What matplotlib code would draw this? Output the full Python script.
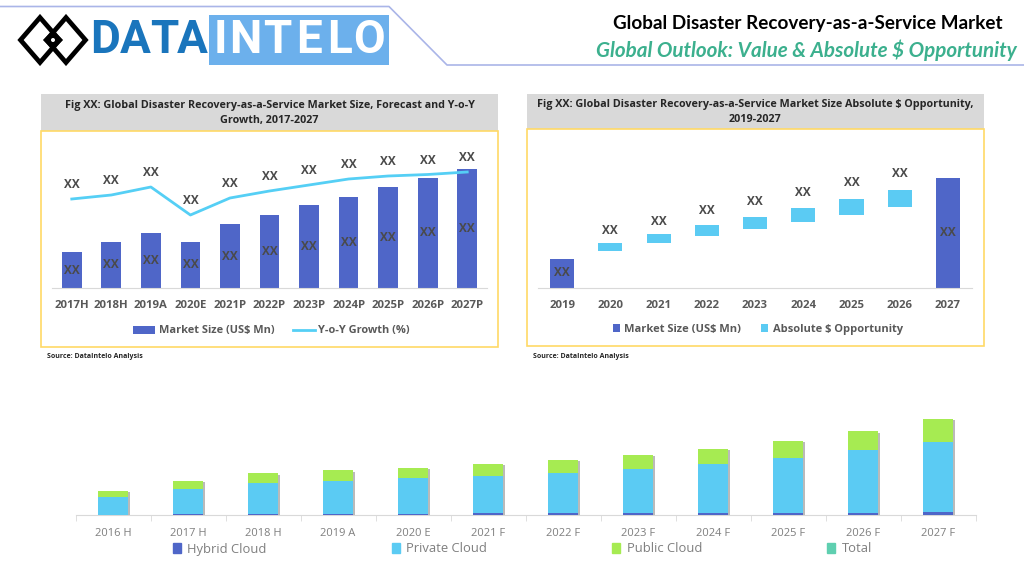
import matplotlib
matplotlib.use('Agg')
import numpy as np
import matplotlib.pyplot as plt
import matplotlib.patheffects as pe
from matplotlib.patches import Rectangle, Polygon, Circle, Patch

W, H = 1024, 576

# Grafica 1: tamano de mercado y crecimiento
years1 = ['2017H', '2018H', '2019A', '2020E', '2021P', '2022P', '2023P', '2024P', '2025P', '2026P', '2027P']
market1 = [36, 46, 55, 46, 64, 73, 83, 91, 101, 110, 119]
growth1 = [89, 93, 101, 73, 90, 97, 103, 109, 112, 113.5, 116]

# Grafica 2: oportunidad absoluta
years2 = ['2019', '2020', '2021', '2022', '2023', '2024', '2025', '2026', '2027']
market2 = [29, 0, 0, 0, 0, 0, 0, 0, 110]
opp_base = [0, 36.5, 44.5, 52, 59, 66, 73, 80.5, 0]
opp_size = [0, 8, 8.7, 10.4, 12, 13.3, 15.3, 17, 0]
opp_label = [56.5, 66, 76.5, 86, 95, 104.5, 114]

# Grafica 3: por tipo de nube
years3 = ['2016 H', '2017 H', '2018 H', '2019 A', '2020 E', '2021 F', '2022 F', '2023 F', '2024 F', '2025 F', '2026 F', '2027 F']
hybrid = np.array([0.3, 1.3, 1.3, 1.3, 1.3, 2.3, 2, 2, 2, 2.7, 2.7, 3.5])
private = np.array([18.3, 25, 31, 33, 35.7, 37.3, 40.3, 44.3, 49.3, 54.9, 62.3, 70.1])
public = np.array([5.7, 8.3, 9.7, 10.7, 10.3, 11.7, 13, 14, 15.3, 16.7, 19, 22.7])

BLUE = '#4F66C8'
CYAN = '#5BCBF3'
GREEN = '#A6EB52'
TEAL = '#5FCFB0'
GOLD = '#FFD966'
GRAY = '#D9D9D9'
TXT = '#595959'
XX = '#4A4A4A'
FONT = 'Open Sans'

plt.rcParams['font.family'] = FONT

fig = plt.figure(figsize=(W / 100, H / 100), dpi=100)

# capa de fondo en pixeles
bg = fig.add_axes([0, 0, 1, 1], zorder=-1)
bg.set_xlim(0, W)
bg.set_ylim(H, 0)
bg.axis('off')

def px_axes(x0, y0, x1, y1):
    a = fig.add_axes([x0 / W, 1 - y1 / H, (x1 - x0) / W, (y1 - y0) / H])
    a.patch.set_alpha(0)
    for s in ['top', 'right', 'left']:
        a.spines[s].set_visible(False)
    a.spines['bottom'].set_color(GRAY)
    a.set_yticks([])
    return a

def fig_pos(x, y):
    return (x / W, 1 - y / H)

# encabezado
bg.plot([0, 389, 447, W], [6.5, 6.5, 65, 65], color='#AAB5E8', lw=1.2)
bg.text(1003, 24, 'Global Disaster Recovery-as-a-Service Market', ha='right', va='center',
        family='Lato', weight='bold', fontsize=13.6, color='black')
bg.text(1017, 50, 'Global Outlook: Value & Absolute $ Opportunity', ha='right', va='center',
        family='Lato', weight='bold', style='italic', fontsize=14.9, color='#3CB08E')

# logo
for cx in [40, 66]:
    bg.add_patch(Polygon([(cx - 19.5, 40), (cx, 17.5), (cx + 19.5, 40), (cx, 62.5)], closed=True,
                         fill=False, ec='black', lw=3.4, joinstyle='miter'))
bg.add_patch(Polygon([(43, 40), (53, 30), (63, 40), (53, 50)], closed=True, fc='black', ec='none'))
bg.add_patch(Circle((53, 40), 2, fc='white', ec='none'))
bg.add_patch(Rectangle((209, 15), 180, 50, fc='#6CB0EC', ec='none'))
for c, x in zip('DATA', [105, 135, 164, 192]):
    bg.text(x, 40, c, ha='center', va='center', family='Roboto', weight='bold',
            fontsize=33, color='#1A75BC')
for c, x in zip('INTELO', [220, 245, 277, 309, 340, 369]):
    bg.text(x, 40, c, ha='center', va='center', family='Roboto', weight='bold',
            fontsize=33, color='white')

# paneles
panels = [(41, 94, 498, 131, 347, 'Fig XX: Global Disaster Recovery-as-a-Service Market Size, Forecast and Y-o-Y\nGrowth, 2017-2027'),
          (527, 94, 984, 129, 346, 'Fig XX: Global Disaster Recovery-as-a-Service Market Size Absolute $ Opportunity,\n2019-2027')]
for x0, y0, x1, y2, y3, tt in panels:
    bg.add_patch(Rectangle((x0, y0), x1 - x0, y2 - y0, fc=GRAY, ec='none'))
    bg.add_patch(Rectangle((x0, y2), x1 - x0, y3 - y2, fc='white', ec=GOLD, lw=1.2))
    bg.text((x0 + x1) / 2, (y0 + y2) / 2 + 0.5, tt, ha='center', va='center', weight='bold',
            fontsize=7.75, color='#262626', linespacing=1.45)
bg.text(47, 356, 'Source: DataIntelo Analysis', ha='left', va='center', weight='bold', fontsize=5, color='#262626')
bg.text(533, 356, 'Source: DataIntelo Analysis', ha='left', va='center', weight='bold', fontsize=5, color='#262626')

# Grafica 1
ax1 = px_axes(52, 140, 487, 288)
x1 = np.arange(len(years1))
bars1 = ax1.bar(x1, market1, width=0.5, color=BLUE, label='Market Size (US$ Mn)')
line1, = ax1.plot(x1, growth1, color='#55CFF5', lw=2, label='Y-o-Y Growth (%)')
for i in x1:
    ax1.text(i, market1[i] / 2, 'XX', ha='center', va='center', weight='bold', fontsize=8.5, color=XX)
    ax1.text(i, growth1[i] + 14.5, 'XX', ha='center', va='center', weight='bold', fontsize=8.5, color=XX)
ax1.set_xlim(-0.5, len(years1) - 0.5)
ax1.set_ylim(0, 148)
ax1.set_xticks(x1, years1)
ax1.tick_params(axis='x', length=0, pad=9, labelsize=8.2, labelcolor=TXT)
for t in ax1.get_xticklabels():
    t.set_fontweight('bold')
ax1.legend(handles=[bars1, line1], loc='center', bbox_to_anchor=fig_pos(271.5, 331), bbox_transform=fig.transFigure,
           ncol=2, frameon=False, handlelength=2, columnspacing=1.7, handletextpad=0.3,
           prop={'family': FONT, 'weight': 'bold', 'size': 7.9}, labelcolor=TXT)

# Grafica 2
ax2 = px_axes(538, 140, 972, 287.5)
x2 = np.arange(len(years2))
ax2.bar(x2, market2, width=0.5, color=BLUE, label='Market Size (US$ Mn)')
ax2.bar(x2, opp_size, bottom=opp_base, width=0.5, color=CYAN, label='Absolute $ Opportunity')
ax2.text(0, market2[0] / 2, 'XX', ha='center', va='center', weight='bold', fontsize=8.5, color=XX)
ax2.text(8, market2[8] / 2, 'XX', ha='center', va='center', weight='bold', fontsize=8.5, color=XX)
for i, v in zip(x2[1:8], opp_label):
    ax2.text(i, v, 'XX', ha='center', va='center', weight='bold', fontsize=8.5, color=XX)
ax2.set_xlim(-0.5, len(years2) - 0.5)
ax2.set_ylim(0, 147.5)
ax2.set_xticks(x2, years2)
ax2.tick_params(axis='x', length=0, pad=9, labelsize=8.2, labelcolor=TXT)
for t in ax2.get_xticklabels():
    t.set_fontweight('bold')
ax2.legend(loc='center', bbox_to_anchor=fig_pos(758, 329.5), bbox_transform=fig.transFigure, ncol=2,
           frameon=False, handlelength=0.6, handleheight=0.8, columnspacing=1.8, handletextpad=0.4,
           prop={'family': FONT, 'weight': 'bold', 'size': 8}, labelcolor=TXT)

# Grafica 3
ax3 = px_axes(75.5, 410, 975.5, 515.3)
x3 = np.arange(len(years3))
shadow = [pe.SimplePatchShadow(offset=(1.5, -1), shadow_rgbFace='#777777', alpha=0.5), pe.Normal()]
b1 = ax3.bar(x3, hybrid, width=0.4, color=BLUE, zorder=4)
b2 = ax3.bar(x3, private, bottom=hybrid, width=0.4, color=CYAN, zorder=3)
b3 = ax3.bar(x3, public, bottom=hybrid + private, width=0.4, color=GREEN, zorder=2)
for cont in [b1, b2, b3]:
    for r in cont:
        r.set_path_effects(shadow)
ax3.set_xlim(-0.5, len(years3) - 0.5)
ax3.set_ylim(0, 105.3)
ax3.set_xticks(x3, years3)
ax3.set_xticks(np.arange(-0.5, len(years3)), minor=True)
ax3.tick_params(axis='x', which='major', length=0, pad=9, labelsize=8, labelcolor='#7F7F7F')
ax3.tick_params(axis='x', which='minor', length=4, color=GRAY)
handles3 = [Patch(color=BLUE, label='Hybrid Cloud'), Patch(color=CYAN, label='Private Cloud'),
            Patch(color=GREEN, label='Public Cloud'), Patch(color=TEAL, label='Total')]
ax3.legend(handles=handles3, loc='center', bbox_to_anchor=fig_pos(522.5, 549), bbox_transform=fig.transFigure, ncol=4,
           frameon=False, handlelength=0.6, handleheight=0.8, columnspacing=9.6, handletextpad=0.5,
           prop={'family': FONT, 'size': 9.4}, labelcolor='#7F7F7F')

fig.savefig('out.png', dpi=100)
